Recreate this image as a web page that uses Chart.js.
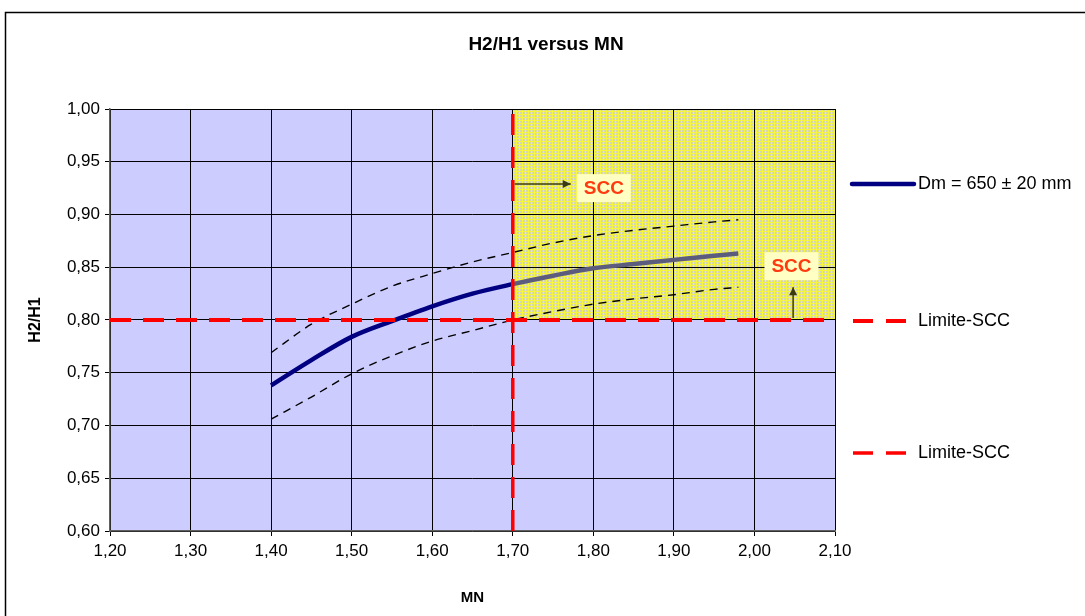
<!DOCTYPE html>
<html>
<head>
<meta charset="utf-8">
<script src="https://cdn.jsdelivr.net/npm/chart.js@4.4.0/dist/chart.umd.min.js"></script>
<style>
  html, body { margin: 0; padding: 0; background: #fff; }
  #wrap { width: 1085px; height: 616px; position: relative; }
</style>
</head>
<body>
<div id="wrap"><canvas id="chart"></canvas></div>
<script>
// MN (x) values shared by the three curves
const mnValues   = [1.40, 1.45, 1.50, 1.55, 1.60, 1.65, 1.70, 1.75, 1.80, 1.85, 1.90, 1.95, 1.98];
// H2/H1 for Dm = 650 mm and the +/- 20 mm band
const meanRatio  = [0.738, 0.762, 0.784, 0.799, 0.813, 0.825, 0.834, 0.842, 0.849, 0.853, 0.857, 0.861, 0.863];
const upperRatio = [0.769, 0.796, 0.815, 0.832, 0.844, 0.855, 0.864, 0.873, 0.880, 0.885, 0.889, 0.893, 0.895];
const lowerRatio = [0.706, 0.727, 0.749, 0.766, 0.780, 0.790, 0.800, 0.808, 0.815, 0.820, 0.824, 0.829, 0.831];

// SCC limit lines
const limitHx = [1.20, 2.10];
const limitHy = [0.80, 0.80];
const limitVx = [1.70, 1.70];
const limitVy = [0.60, 1.00];

// SCC zone and its labels
const sccZoneX = [1.70, 2.10];
const sccZoneY = [0.80, 1.00];
const sccLabelX = [1.813, 2.046];
const sccLabelY = [0.925, 0.851];

// axis ticks
const xTicks = [1.20, 1.30, 1.40, 1.50, 1.60, 1.70, 1.80, 1.90, 2.00, 2.10];
const yTicks = [0.60, 0.65, 0.70, 0.75, 0.80, 0.85, 0.90, 0.95, 1.00];

const chartTitle = "H2/H1 versus MN";
const legendLabels = ["Dm = 650 ± 20 mm", "Limite-SCC", "Limite-SCC"];

const FONT = "'Liberation Sans', Arial, sans-serif";
const fmt = v => v.toFixed(2).replace('.', ',');
const pts = (xs, ys) => xs.map((x, i) => ({ x: x, y: ys[i] }));

function makeHatch() {
  const c = document.createElement('canvas');
  c.width = 3; c.height = 3;
  const g = c.getContext('2d');
  g.fillStyle = '#d6d6b2';
  g.fillRect(0, 0, 3, 3);
  g.fillStyle = '#f6f63c';
  g.fillRect(0, 0, 3, 1);
  g.fillRect(0, 0, 1, 3);
  return c;
}

const background = {
  id: 'background',
  beforeDraw(chart) {
    const { ctx, chartArea: a, scales: { x, y } } = chart;
    ctx.save();
    ctx.strokeStyle = '#000';
    ctx.lineWidth = 1.5;
    ctx.strokeRect(5.5, 12.5, 1300, 900);
    ctx.fillStyle = '#ccccff';
    ctx.fillRect(a.left, a.top, a.width, a.height);
    // SCC zone
    const x0 = x.getPixelForValue(sccZoneX[0]), x1 = x.getPixelForValue(sccZoneX[1]);
    const y0 = y.getPixelForValue(sccZoneY[1]), y1 = y.getPixelForValue(sccZoneY[0]);
    ctx.fillStyle = ctx.createPattern(makeHatch(), 'repeat');
    ctx.fillRect(x0, y0, x1 - x0, y1 - y0);
    // title, centred on the whole frame
    ctx.fillStyle = '#000';
    ctx.font = 'bold 19px ' + FONT;
    ctx.textAlign = 'center';
    ctx.textBaseline = 'middle';
    ctx.fillText(chartTitle, 546, 45);
    ctx.restore();
  }
};

function arrow(ctx, xa, ya, xb, yb) {
  const ang = Math.atan2(yb - ya, xb - xa);
  ctx.beginPath();
  ctx.moveTo(xa, ya);
  ctx.lineTo(xb, yb);
  ctx.stroke();
  ctx.beginPath();
  ctx.moveTo(xb, yb);
  ctx.lineTo(xb - 8 * Math.cos(ang) + 4 * Math.sin(ang), yb - 8 * Math.sin(ang) - 4 * Math.cos(ang));
  ctx.lineTo(xb - 8 * Math.cos(ang) - 4 * Math.sin(ang), yb - 8 * Math.sin(ang) + 4 * Math.cos(ang));
  ctx.closePath();
  ctx.fill();
}

const sccNotes = {
  id: 'sccNotes',
  afterDatasetsDraw(chart) {
    const { ctx, scales: { x, y } } = chart;
    ctx.save();
    ctx.strokeStyle = '#3a3a10';
    ctx.fillStyle = '#3a3a10';
    ctx.lineWidth = 1.5;
    // right-pointing arrow from the limit line
    arrow(ctx, x.getPixelForValue(1.70) + 2, y.getPixelForValue(0.929), x.getPixelForValue(1.772), y.getPixelForValue(0.929));
    // upward arrow from the limit line
    arrow(ctx, x.getPixelForValue(2.048), y.getPixelForValue(0.802), x.getPixelForValue(2.048), y.getPixelForValue(0.831));
    ctx.font = 'bold 19px ' + FONT;
    ctx.textAlign = 'center';
    ctx.textBaseline = 'middle';
    sccLabelX.forEach((v, i) => {
      const cx = x.getPixelForValue(v), cy = y.getPixelForValue(sccLabelY[i]);
      ctx.fillStyle = '#ffffc4';
      ctx.fillRect(cx - 27, cy - 14, 54, 28);
      ctx.fillStyle = '#ff3a10';
      ctx.fillText('SCC', cx, cy + 1);
    });
    ctx.restore();
  }
};

const sideLegend = {
  id: 'sideLegend',
  afterDraw(chart) {
    const { ctx } = chart;
    const rows = [184, 321, 453];
    const ds = [chart.data.datasets[2], chart.data.datasets[0], chart.data.datasets[1]];
    ctx.save();
    ctx.font = '18px ' + FONT;
    ctx.textBaseline = 'middle';
    ctx.fillStyle = '#000';
    rows.forEach((ry, i) => {
      ctx.beginPath();
      ctx.strokeStyle = ds[i].borderColor;
      ctx.lineWidth = ds[i].borderWidth;
      ctx.setLineDash(i === 0 ? [] : [20, 13]);
      ctx.lineCap = i === 0 ? 'round' : 'butt';
      ctx.moveTo(i === 0 ? 852 : 853, ry);
      ctx.lineTo(i === 0 ? 914 : 907, ry);
      ctx.stroke();
      ctx.fillText(legendLabels[i], 918, ry);
    });
    ctx.restore();
  }
};

new Chart(document.getElementById('chart'), {
  type: 'scatter',
  data: {
    datasets: [
      {
        label: legendLabels[1],
        data: pts(limitHx, limitHy),
        showLine: true, pointRadius: 0,
        borderColor: '#ff0000', borderWidth: 4, borderDash: [21, 12]
      },
      {
        label: legendLabels[2],
        data: pts(limitVx, limitVy),
        showLine: true, pointRadius: 0,
        borderColor: '#ff0000', borderWidth: 3.5, borderDash: [21, 12]
      },
      {
        label: legendLabels[0],
        data: pts(mnValues, meanRatio),
        showLine: true, pointRadius: 0,
        borderColor: '#000080', borderWidth: 4.5,
        cubicInterpolationMode: 'monotone',
        segment: {
          borderColor: c => c.p0.parsed.x >= sccZoneX[0] - 1e-9 ? '#5c5c7e' : '#000080'
        }
      },
      {
        label: 'Dm + 20',
        data: pts(mnValues, upperRatio),
        showLine: true, pointRadius: 0,
        borderColor: '#000', borderWidth: 1.4, borderDash: [8, 6],
        cubicInterpolationMode: 'monotone'
      },
      {
        label: 'Dm - 20',
        data: pts(mnValues, lowerRatio),
        showLine: true, pointRadius: 0,
        borderColor: '#000', borderWidth: 1.4, borderDash: [8, 6],
        cubicInterpolationMode: 'monotone'
      }
    ]
  },
  options: {
    responsive: true,
    maintainAspectRatio: false,
    animation: false,
    layout: { padding: { left: 20, right: 250, top: 109, bottom: 8 } },
    plugins: {
      legend: { display: false },
      tooltip: { enabled: false },
      title: { display: false }
    },
    scales: {
      x: {
        type: 'linear',
        min: xTicks[0], max: xTicks[xTicks.length - 1],
        afterBuildTicks: s => { s.ticks = xTicks.map(v => ({ value: v })); },
        afterFit: s => { s.height = 77; },
        ticks: {
          color: '#000', padding: 5, maxRotation: 0,
          font: { family: FONT, size: 17 },
          callback: v => fmt(v)
        },
        grid: { color: '#000', lineWidth: 1, tickLength: 5 },
        border: { color: '#606060', width: 1.5 },
        title: {
          display: true, text: 'MN', color: '#000',
          font: { family: FONT, size: 15, weight: 'bold' },
          padding: { top: 0, bottom: 1 }
        }
      },
      y: {
        type: 'linear',
        min: yTicks[0], max: yTicks[yTicks.length - 1],
        afterBuildTicks: s => { s.ticks = yTicks.map(v => ({ value: v })); },
        afterFit: s => { s.width = 90; },
        ticks: {
          color: '#000', padding: 5,
          font: { family: FONT, size: 17 },
          callback: v => fmt(v)
        },
        grid: { color: '#000', lineWidth: 1, tickLength: 5 },
        border: { color: '#606060', width: 1.5 },
        title: {
          display: true, text: 'H2/H1', color: '#000',
          font: { family: FONT, size: 16, weight: 'bold' },
          padding: { top: 6, bottom: 0 }
        }
      }
    }
  },
  plugins: [background, sccNotes, sideLegend]
});
</script>
</body>
</html>
